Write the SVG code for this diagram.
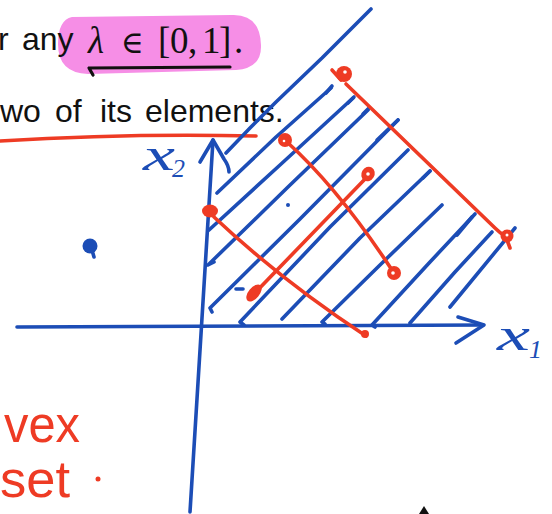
<svg xmlns="http://www.w3.org/2000/svg" width="552" height="514" viewBox="0 0 552 514">
<style>
.b{fill:none;stroke:#1c4db6;stroke-width:3.6;stroke-linecap:round;stroke-linejoin:round}
.r{fill:none;stroke:#ee3b24;stroke-width:3.6;stroke-linecap:round;stroke-linejoin:round}
.rf{fill:#ee3b24}
.bf{fill:#1c4db6}
.hole{fill:#fff}
.txt{font-family:"Liberation Sans",Arial,sans-serif;font-size:32px;fill:#111}
.math{font-family:"Liberation Serif","DejaVu Serif",serif;font-size:37px;fill:#111}
.hw{font-family:"Liberation Sans",Arial,sans-serif;fill:#ee3b24}
.lab{font-family:"Liberation Serif",serif;font-style:italic;fill:#1c4db6}
</style>
<rect width="552" height="514" fill="#fff"/>
<g id="highlight">
<path d="M72,17 Q58,20 58,44 Q58,73 88,74 L236,70 Q262,68 261,45 Q260,14 232,15 Z" fill="#f68ee6"/>
</g>
<g id="text-top">
<text class="txt" y="50"><tspan x="-2">r</tspan><tspan x="22">any</tspan></text>
<text class="math" y="53"><tspan x="88" font-style="italic">λ</tspan><tspan x="121" font-family="DejaVu Serif" font-size="31">∈</tspan><tspan x="158">[</tspan><tspan x="170">0</tspan><tspan x="188">,</tspan><tspan x="202">1</tspan><tspan x="219">]</tspan><tspan x="234">.</tspan></text>
<path d="M93,75 L89,68 L230,67" fill="none" stroke="#111" stroke-width="3.2" stroke-linecap="round" stroke-linejoin="round"/>
<text class="txt" y="122"><tspan x="0">wo</tspan><tspan x="55">of</tspan><tspan x="100">its</tspan><tspan x="145">elements.</tspan></text>
<path class="r" d="M0,141 Q130,133 256,136"/>
</g>
<g id="axes">
<path class="b" d="M17,327 L483,325"/>
<path class="b" d="M458,317 L484,325 L456,343"/>
<path class="b" d="M213,140 L190,512"/>
<path class="b" d="M200,162 L213,140 L224,159 Q229,166 229,172"/>
<text class="lab" x="143" y="170" font-size="46" textLength="32" lengthAdjust="spacingAndGlyphs">x</text>
<text class="lab" x="172" y="177" font-size="26" font-style="normal">2</text>
<text class="lab" x="497" y="350" font-size="46" textLength="33" lengthAdjust="spacingAndGlyphs">x</text>
<text class="lab" x="529" y="358" font-size="26" font-style="normal">1</text>
</g>
<g id="hatching">
<path class="b" d="M366,14 L371,9 L322,58 L276,102 L250,128 L226,153"/>
<path class="b" d="M217,193 L276,137 L331,88"/>
<path class="b" d="M209,230 L280,165 L353,98"/>
<path class="b" d="M214,262 L208,265 L288,187 L368,110"/>
<path class="b" d="M212,312 L210,308 L300,219 L398,120"/>
<path class="b" d="M244,325 L240,322 L330,227 L408,150"/>
<path class="b" d="M282,319 L360,238 L430,171"/>
<path class="b" d="M325,324 L322,322 L380,265 L442,205"/>
<path class="b" d="M375,327 L372,325 L430,262 L475,214"/>
<path class="b" d="M410,323 L455,272 L492,232"/>
<path class="b" d="M450,307 L515,228"/>
<path class="b" d="M326,93 L332,86" stroke-width="6"/>
<path class="b" d="M348,103 L354,97" stroke-width="6"/>
<path class="b" d="M363,114 L369,108" stroke-width="6"/>
<path class="b" d="M377,140 L398,120" stroke-width="5"/>
<path class="b" d="M423,178 L430,171" stroke-width="6"/>
<path class="b" d="M457,235 L472,217" stroke-width="5"/>
<path class="b" d="M236,289 L243,289"/>
<circle class="bf" cx="288" cy="205" r="2"/>
</g>
<g id="outside-point">
<circle class="bf" cx="90" cy="246" r="7.5"/>
<path class="b" d="M92,250 L94,257"/>
</g>
<g id="segments">
<path class="r" d="M214,217 Q282,281 366,336"/>
<path class="r" d="M250,298 L366,178"/>
<path class="r" d="M287,142 Q338,188 392,270"/>
<path class="r" d="M346,84 L495,228 Q500,233 505,236"/>
<ellipse class="rf" cx="210" cy="211" rx="8" ry="6.5"/>
<circle class="rf" cx="285" cy="140" r="7"/>
<circle class="hole" cx="284" cy="141" r="1.3"/>
<circle class="rf" cx="344" cy="74" r="8"/>
<circle class="hole" cx="345" cy="72" r="1.8"/>
<path class="r" d="M332,70 L341,80" stroke-width="5"/>
<ellipse class="rf" cx="368" cy="174" rx="6.5" ry="7.5" transform="rotate(30 368 174)"/>
<circle class="hole" cx="368" cy="174" r="1.8"/>
<circle class="rf" cx="394" cy="273" r="7"/>
<circle class="hole" cx="393" cy="273" r="1.8"/>
<circle class="rf" cx="507" cy="236" r="6.5"/>
<circle class="hole" cx="507" cy="235" r="1.5"/>
<path class="r" d="M507,240 L510,248" stroke-width="4.5"/>
<ellipse class="rf" cx="254" cy="293" rx="10" ry="5.5" transform="rotate(-50 254 293)"/>
<circle class="rf" cx="365" cy="334" r="4"/>
</g>
<g id="note">
<text class="hw" x="4" y="442" font-size="52" textLength="76" lengthAdjust="spacingAndGlyphs">vex</text>
<text class="hw" x="0" y="497" font-size="52" textLength="70" lengthAdjust="spacingAndGlyphs">set</text>
<circle class="rf" cx="98" cy="479" r="2.5"/>
</g>
<path d="M419,514 L424,506 L429,514 Z" fill="#111"/>
</svg>
